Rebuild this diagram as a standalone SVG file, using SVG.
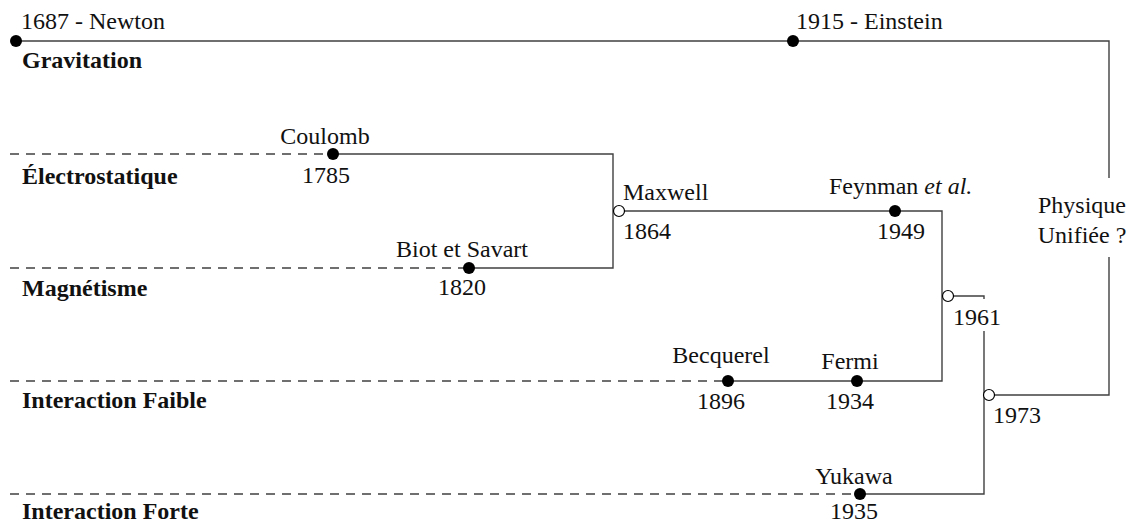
<svg xmlns="http://www.w3.org/2000/svg" width="1141" height="524" viewBox="0 0 1141 524">
<style>
.ln{fill:none;stroke:#404040;stroke-width:1.4}
.ds{fill:none;stroke:#404040;stroke-width:1.4;stroke-dasharray:9 7}
.dot{fill:#000}
.open{fill:#fff;stroke:#000;stroke-width:1.2}
text{font-family:"Liberation Serif","Times New Roman",serif;font-size:24px;fill:#111}
.b{font-weight:bold}
.m{text-anchor:middle}
</style>
<rect width="1141" height="524" fill="#fff"/>
<g id="connectors">
<path class="ln" d="M16,41 H1109 V178"/>
<path class="ln" d="M1109,257 V395 H989"/>
<path class="ds" d="M10,154 H333"/>
<path class="ln" d="M333,154 H613 V268 H469"/>
<path class="ds" d="M10,268 H469"/>
<path class="ln" d="M619,211 H942 V381 H728"/>
<path class="ds" d="M10,381 H728"/>
<path class="ln" d="M948,296 H984 V299"/>
<path class="ln" d="M984,331 V494 H860"/>
<path class="ds" d="M10,494 H860"/>
</g>
<g id="gravitation">
<text x="21" y="29">1687 - Newton</text>
<text class="b" x="22" y="68">Gravitation</text>
<circle class="dot" cx="16" cy="41" r="6"/>
</g>
<g id="einstein">
<circle class="dot" cx="793" cy="41" r="6"/>
<text x="796" y="29">1915 - Einstein</text>
</g>
<g id="electrostatique">
<text class="b" x="22" y="184">Électrostatique</text>
</g>
<g id="coulomb">
<circle class="dot" cx="333" cy="154" r="6"/>
<text class="m" x="325" y="144">Coulomb</text>
<text class="m" x="326" y="183">1785</text>
</g>
<g id="magnetisme">
<text class="b" x="22" y="296">Magnétisme</text>
</g>
<g id="biot-savart">
<circle class="dot" cx="469" cy="268" r="6"/>
<text class="m" x="462" y="257">Biot et Savart</text>
<text class="m" x="462" y="295">1820</text>
</g>
<g id="maxwell">
<circle class="open" cx="619" cy="211" r="5.5"/>
<text x="623" y="200">Maxwell</text>
<text x="623" y="239">1864</text>
</g>
<g id="feynman">
<circle class="dot" cx="895" cy="211" r="6"/>
<text x="829" y="194">Feynman <tspan font-style="italic">et al.</tspan></text>
<text class="m" x="901" y="239">1949</text>
</g>
<g id="unif1961">
<circle class="open" cx="948" cy="296" r="5.5"/>
<text x="953" y="325">1961</text>
</g>
<g id="faible">
<text class="b" x="22" y="408">Interaction Faible</text>
</g>
<g id="becquerel">
<circle class="dot" cx="728" cy="381" r="6"/>
<text class="m" x="721" y="363">Becquerel</text>
<text class="m" x="721" y="409">1896</text>
</g>
<g id="fermi">
<circle class="dot" cx="857" cy="381" r="6"/>
<text class="m" x="850" y="369">Fermi</text>
<text class="m" x="850" y="409">1934</text>
</g>
<g id="forte">
<text class="b" x="22" y="519">Interaction Forte</text>
</g>
<g id="yukawa">
<circle class="dot" cx="860" cy="494" r="6"/>
<text class="m" x="854" y="484">Yukawa</text>
<text class="m" x="854" y="519">1935</text>
</g>
<g id="unif1973">
<circle class="open" cx="989" cy="395" r="5.5"/>
<text x="993" y="423">1973</text>
</g>
<g id="physique-unifiee">
<text class="m" x="1082" y="213">Physique</text>
<text class="m" x="1082" y="243">Unifiée ?</text>
</g>
</svg>
